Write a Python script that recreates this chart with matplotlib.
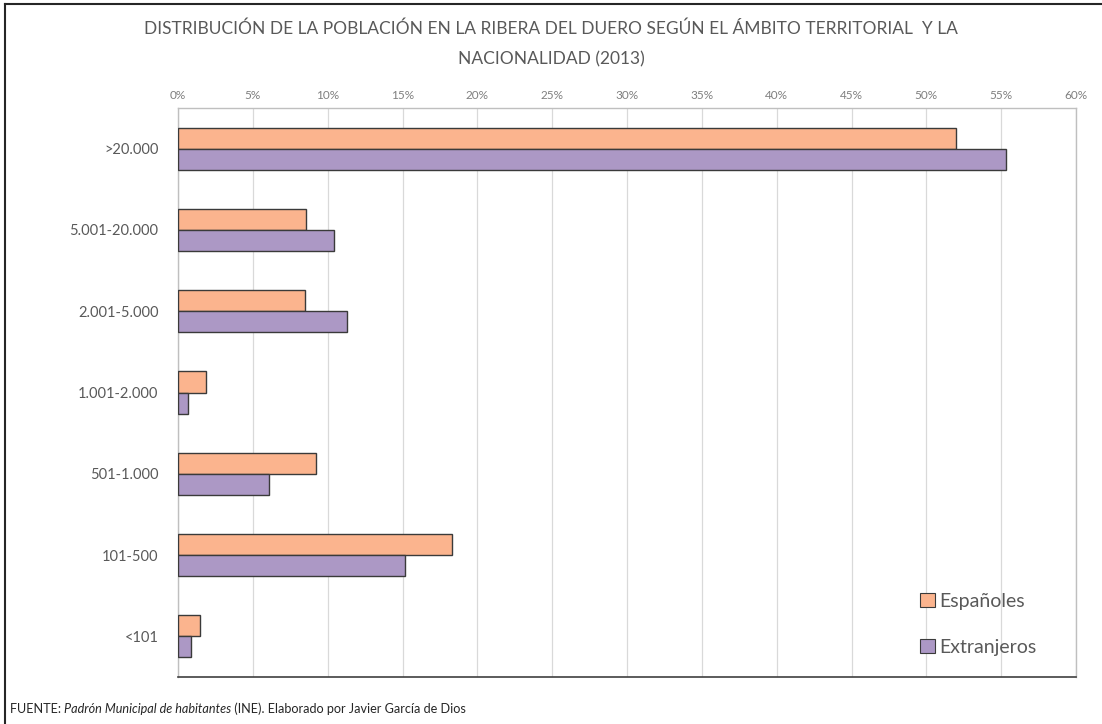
import matplotlib
matplotlib.use("Agg")
import matplotlib.pyplot as plt
from matplotlib.patches import Patch
from matplotlib.lines import Line2D
import numpy as np

categories = [">20.000", "5.001-20.000", "2.001-5.000", "1.001-2.000", "501-1.000", "101-500", "<101"]
espanoles = [52.0, 8.55, 8.5, 1.9, 9.2, 18.3, 1.5]
extranjeros = [55.3, 10.4, 11.3, 0.7, 6.1, 15.2, 0.9]
xticks = [0, 5, 10, 15, 20, 25, 30, 35, 40, 45, 50, 55, 60]
series_names = ["Españoles", "Extranjeros"]
title = "DISTRIBUCIÓN DE LA POBLACIÓN EN LA RIBERA DEL DUERO SEGÚN EL ÁMBITO TERRITORIAL  Y LA\nNACIONALIDAD (2013)"

plt.rcParams['font.family'] = ['Lato', 'DejaVu Sans']

c_esp = "#FBB48E"
c_ext = "#AC98C5"
edge = "#3a3a3a"
txt = "#595959"

fig = plt.figure(figsize=(11.02, 7.24), dpi=100)
ax = fig.add_axes([178/1102, 1-677/724, (1076-178)/1102, (677-108)/724])

y = np.arange(len(categories))
h = 0.26
ax.barh(y - h/2, espanoles, height=h, color=c_esp, edgecolor=edge, linewidth=1.0, zorder=3)
ax.barh(y + h/2, extranjeros, height=h, color=c_ext, edgecolor=edge, linewidth=1.0, zorder=3)

ax.set_xlim(0, 60)
ax.set_ylim(len(categories) - 0.5, -0.5)
ax.set_yticks(y)
ax.set_yticklabels(categories, fontsize=10.5, color=txt)
ax.set_xticks(xticks)
ax.set_xticklabels([f"{v}%" for v in xticks], fontsize=8.5, color="#7f7f7f")
ax.xaxis.tick_top()
ax.tick_params(axis='x', length=0, pad=5)
ax.tick_params(axis='y', length=0, pad=14)
ax.grid(axis='x', color="#d9d9d9", linewidth=0.9, zorder=0)
ax.set_axisbelow(True)
for s in ['top', 'right']:
    ax.spines[s].set_color("#bfbfbf")
    ax.spines[s].set_linewidth(1.0)
ax.spines['left'].set_color("#bfbfbf")
ax.spines['left'].set_linewidth(1.0)
ax.spines['bottom'].set_color("#404040")
ax.spines['bottom'].set_linewidth(1.2)

handles = [Patch(facecolor=c_esp, edgecolor=edge, linewidth=0.8),
           Patch(facecolor=c_ext, edgecolor=edge, linewidth=0.8)]
leg = ax.legend(handles, series_names, loc='lower right', bbox_to_anchor=(0.975, 0.006),
                frameon=False, fontsize=14, labelcolor=txt, labelspacing=1.5,
                handlelength=0.75, handleheight=0.75, handletextpad=0.2, borderaxespad=0.5)

fig.text(0.5, 1-44/724, title, ha='center', va='center', fontsize=12.5, color=txt,
         linespacing=2.1)

# footer with italic portion
renderer = fig.canvas.get_renderer()
x0 = 10/1102
yf = 1-709/724
parts = [("FUENTE: ", 'normal'), ("Padrón Municipal de habitantes", 'italic'),
         (" (INE). Elaborado por Javier García de Dios", 'normal')]
xc = x0
for s, st in parts:
    t = fig.text(xc, yf, s, ha='left', va='center', fontsize=9.1, color="#262626", style=st)
    bb = t.get_window_extent(renderer=renderer)
    xc += bb.width / fig.bbox.width

# outer border (top and left)
fig.add_artist(Line2D([5/1102, 5/1102], [0, 1-4/724], color="#262626", linewidth=1.5, transform=fig.transFigure))
fig.add_artist(Line2D([5/1102, 1], [1-4/724, 1-4/724], color="#262626", linewidth=1.5, transform=fig.transFigure))

fig.savefig("out.png", dpi=100)
